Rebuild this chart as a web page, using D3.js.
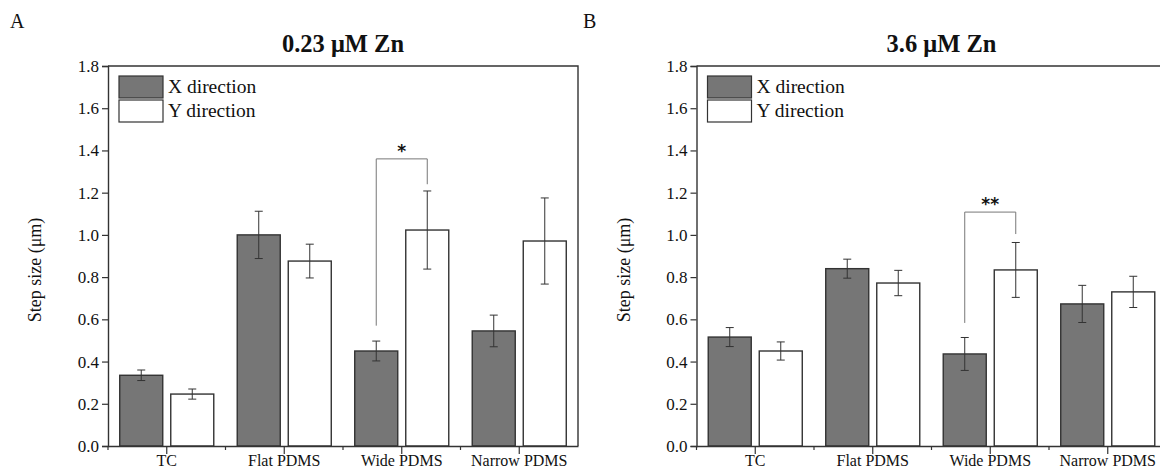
<!DOCTYPE html>
<html>
<head>
<meta charset="utf-8">
<script src="https://cdn.jsdelivr.net/npm/d3@7"></script>
<style>
  body { margin: 0; background: #fff; }
  text { font-family: "Liberation Serif", "Times New Roman", serif; fill: #111; }
</style>
</head>
<body>
<div id="chart-area"></div>
<script>
// data
const categories = ["TC", "Flat PDMS", "Wide PDMS", "Narrow PDMS"];
const series = ["X direction", "Y direction"];
const yTicks = [0.0, 0.2, 0.4, 0.6, 0.8, 1.0, 1.2, 1.4, 1.6, 1.8];

// panel A : 0.23 uM Zn
const aX = [0.335, 1.0, 0.45, 0.545];
const aXErr = [0.025, 0.112, 0.047, 0.075];
const aY = [0.246, 0.876, 1.023, 0.971];
const aYErr = [0.024, 0.08, 0.185, 0.204];

// panel B : 3.6 uM Zn
const bX = [0.516, 0.84, 0.436, 0.673];
const bXErr = [0.045, 0.045, 0.078, 0.088];
const bY = [0.45, 0.772, 0.834, 0.73];
const bYErr = [0.043, 0.06, 0.13, 0.074];

// significance brackets [bottom left, top, bottom right]
const aBracket = { cat: "Wide PDMS", left: 0.57, top: 1.36, right: 1.24, label: "*" };
const bBracket = { cat: "Wide PDMS", left: 0.583, top: 1.108, right: 1.004, label: "**" };

const svg = d3.select("#chart-area").append("svg")
  .attr("width", 1160)
  .attr("height", 472)
  .attr("font-family", "'Liberation Serif', serif");

const W = 470, H = 380;
const colors = { "X direction": "#767676", "Y direction": "#ffffff" };
const serif = "'Liberation Serif', 'Times New Roman', serif";

function drawPanel(opt) {
  const g = svg.append("g")
    .attr("transform", "translate(" + opt.left + "," + 66 + ")");

  const x = d3.scaleBand().domain(categories).range([0, W]);
  const x1 = d3.scaleBand().domain(series).range([0, x.bandwidth()])
    .paddingInner(0.157).paddingOuter(0.23);
  const y = d3.scaleLinear().domain([0, 1.8]).range([H, 0]);

  // bars
  const rows = [];
  categories.forEach((c, i) => {
    rows.push({ cat: c, s: series[0], v: opt.xv[i], e: opt.xe[i] });
    rows.push({ cat: c, s: series[1], v: opt.yv[i], e: opt.ye[i] });
  });

  g.selectAll("rect.bar").data(rows).enter().append("rect")
    .attr("class", "bar")
    .attr("x", d => x(d.cat) + x1(d.s))
    .attr("y", d => y(d.v))
    .attr("width", x1.bandwidth())
    .attr("height", d => H - y(d.v))
    .attr("fill", d => colors[d.s])
    .attr("stroke", "#333")
    .attr("stroke-width", 1.4);

  // error bars
  const eb = g.selectAll("g.err").data(rows).enter().append("g")
    .attr("class", "err")
    .attr("transform", d => "translate(" + (x(d.cat) + x1(d.s) + x1.bandwidth() / 2) + ",0)");
  eb.append("line")
    .attr("y1", d => y(d.v - d.e)).attr("y2", d => y(d.v + d.e))
    .attr("stroke", "#333").attr("stroke-width", 1);
  eb.append("line")
    .attr("x1", -4).attr("x2", 4)
    .attr("y1", d => y(d.v + d.e)).attr("y2", d => y(d.v + d.e))
    .attr("stroke", "#333").attr("stroke-width", 1);
  eb.append("line")
    .attr("x1", -4).attr("x2", 4)
    .attr("y1", d => y(d.v - d.e)).attr("y2", d => y(d.v - d.e))
    .attr("stroke", "#333").attr("stroke-width", 1);

  // significance bracket
  const br = opt.bracket;
  const bxL = x(br.cat) + x1(series[0]) + x1.bandwidth() / 2;
  const bxR = x(br.cat) + x1(series[1]) + x1.bandwidth() / 2;
  g.append("path")
    .attr("d", "M" + bxL + "," + y(br.left) + "V" + y(br.top) + "H" + bxR + "V" + y(br.right))
    .attr("fill", "none")
    .attr("stroke", "#777")
    .attr("stroke-width", 1);
  g.append("text")
    .attr("x", (bxL + bxR) / 2)
    .attr("y", y(br.top) + 4)
    .attr("dy", "-0.35em")
    .attr("text-anchor", "middle")
    .style("font-family", "'DejaVu Sans', sans-serif")
    .style("font-weight", "bold")
    .style("font-size", "17px")
    .text(br.label);

  // frame
  g.append("path")
    .attr("d", "M0,0H" + W + "V" + H)
    .attr("fill", "none")
    .attr("stroke", "#333")
    .attr("stroke-width", 1.4);

  // y axis
  const yAxis = g.append("g")
    .call(d3.axisLeft(y).tickValues(yTicks).tickFormat(d3.format(".1f")).tickSize(6).tickPadding(3));
  yAxis.attr("font-family", serif).attr("font-size", 17);
  yAxis.select(".domain").attr("stroke", "#333").attr("stroke-width", 1.4);
  yAxis.selectAll(".tick line").attr("stroke", "#333").attr("stroke-width", 1.2);
  yAxis.selectAll("text").style("font-size", "17px").style("font-family", serif).attr("fill", "#111");

  // x axis: major ticks on categories, minor ticks at band edges
  const xAxis = g.append("g")
    .attr("transform", "translate(0," + H + ")")
    .call(d3.axisBottom(x).tickSize(8).tickPadding(1).tickSizeOuter(0));
  xAxis.attr("font-family", serif).attr("font-size", 16);
  xAxis.select(".domain").attr("stroke", "#333").attr("stroke-width", 1.4);
  xAxis.selectAll(".tick line").attr("stroke", "#333").attr("stroke-width", 1.2);
  xAxis.selectAll("text").style("font-size", "16px").style("font-family", serif).attr("fill", "#111");
  xAxis.selectAll("line.minor").data(categories).enter().append("line")
    .attr("class", "minor")
    .attr("x1", d => x(d)).attr("x2", d => x(d))
    .attr("y1", 0).attr("y2", 4)
    .attr("stroke", "#333").attr("stroke-width", 1.2);

  // y label
  g.append("text")
    .attr("transform", "translate(" + (-67) + "," + (H / 2 + 14) + ") rotate(-90)")
    .attr("text-anchor", "middle")
    .style("font-size", "18px")
    .style("font-family", serif)
    .text("Step size (\u03bcm)");

  // title
  g.append("text")
    .attr("x", W / 2 + opt.titleShift)
    .attr("y", -14)
    .attr("text-anchor", "middle")
    .style("font-size", "24.5px")
    .style("font-weight", "bold")
    .style("font-family", serif)
    .text(opt.title);

  // panel letter
  svg.append("text")
    .attr("x", opt.letterX)
    .attr("y", 28)
    .style("font-size", "20px")
    .style("font-family", serif)
    .text(opt.letter);

  // legend
  const legend = g.append("g")
    .attr("transform", "translate(11,10)");
  series.forEach(function (s, i) {
    const row = legend.append("g")
      .attr("transform", "translate(0," + (i * 24) + ")");
    row.append("rect")
      .attr("width", 44)
      .attr("height", 22)
      .attr("fill", colors[s])
      .attr("stroke", "#333")
      .attr("stroke-width", 1.2);
    row.append("text")
      .attr("x", 49)
      .attr("y", 17)
      .style("font-size", "19.5px")
      .style("font-family", serif)
      .text(s);
  });
}

drawPanel({ left: 108, xv: aX, xe: aXErr, yv: aY, ye: aYErr, bracket: aBracket,
  title: "0.23 \u03bcM Zn", titleShift: 0, letter: "A", letterX: 10 });
drawPanel({ left: 696.5, xv: bX, xe: bXErr, yv: bY, ye: bYErr, bracket: bBracket,
  title: "3.6 \u03bcM Zn", titleShift: 10, letter: "B", letterX: 583 });
</script>
</body>
</html>
